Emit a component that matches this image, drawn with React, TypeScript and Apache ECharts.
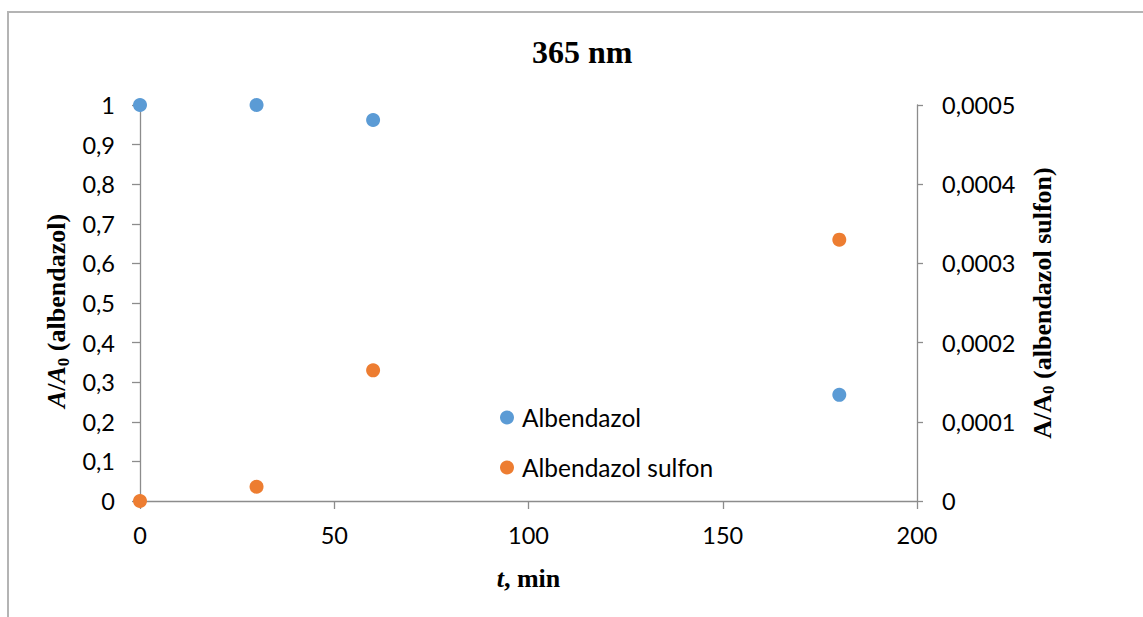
import React, { useEffect, useRef } from "react";
import * as echarts from "echarts";

const timeMin = [0, 30, 60, 180];
const albendazol = [1, 1, 0.962, 0.268];
const albendazolSulfon = [0, 0.000018, 0.000165, 0.00033];
const seriesNames = ["Albendazol", "Albendazol sulfon"];
const titleText = "365 nm";

const fmt = (v: number) => {
  const s = parseFloat(v.toFixed(6)).toString();
  return s.replace(".", ",");
};

export default function App() {
  const ref = useRef<HTMLDivElement>(null);
  useEffect(() => {
    if (!ref.current) return;
    const chart = echarts.init(ref.current, null, { renderer: "svg" });
    const axisColor = "#8c8c8c";
    const labelFont = { fontFamily: "Lato", fontSize: 23.5, color: "#000" };
    const nameRich = {
      i: { fontFamily: "Liberation Serif", fontStyle: "italic", fontWeight: "bold", fontSize: 26, color: "#000", lineHeight: 30 },
      b: { fontFamily: "Liberation Serif", fontWeight: "bold", fontSize: 26, color: "#000", lineHeight: 30 },
      s: { fontFamily: "Liberation Serif", fontWeight: "bold", fontSize: 17, color: "#000", lineHeight: 30, verticalAlign: "bottom" as const },
    };
    const nameRichUp = {
      ...nameRich,
      i: { ...nameRich.b },
    };
    chart.setOption({
      animation: false,
      backgroundColor: "#fff",
      title: {
        text: titleText,
        left: 527,
        top: 31,
        textStyle: { fontFamily: "Liberation Serif", fontWeight: "bold", fontSize: 32, color: "#000" },
      },
      legend: {
        orient: "vertical",
        left: 500,
        top: 405,
        padding: 0,
        icon: "circle",
        itemWidth: 14,
        itemHeight: 14,
        itemGap: 25,
        data: seriesNames,
        textStyle: { fontFamily: "Lato", fontSize: 24.5, color: "#000", lineHeight: 24, padding: [0, 0, 0, 3] },
      },
      graphic: [
        {
          type: "rect",
          shape: { x: 8, y: 12, width: 1300, height: 800 },
          style: { fill: "none", stroke: "#b4b4b4", lineWidth: 2 },
          silent: true,
          z: -10,
        },
      ],
      grid: {
        left: 140,
        right: 226,
        top: 105,
        bottom: 116,
        containLabel: false,
        outerBoundsMode: "none",
      },
      xAxis: {
        type: "value",
        min: 0,
        max: 200,
        interval: 50,
        name: "{i|t}{b|, min}",
        nameLocation: "middle",
        nameGap: 62,
        nameTextStyle: { rich: nameRich },
        axisLine: { show: true, onZero: false, lineStyle: { color: axisColor, width: 1.3 } },
        axisTick: { show: true, inside: false, length: 8, lineStyle: { color: axisColor, width: 1.3 } },
        axisLabel: { ...labelFont, margin: 22, formatter: fmt },
        splitLine: { show: false },
      },
      yAxis: [
        {
          type: "value",
          position: "left",
          min: 0,
          max: 1,
          interval: 0.1,
          name: "{i|A}{b|/}{i|A}{s|0}{b| (albendazol)}",
          nameLocation: "middle",
          nameRotate: 90,
          nameGap: 62,
          nameTextStyle: { rich: nameRich, padding: [0, 16, 0, 0] },
          axisLine: { show: true, onZero: false, lineStyle: { color: axisColor, width: 1.3 } },
          axisTick: { show: true, inside: false, length: 8, lineStyle: { color: axisColor, width: 1.3 } },
          axisLabel: { ...labelFont, margin: 25, formatter: fmt },
          splitLine: { show: false },
        },
        {
          type: "value",
          position: "right",
          min: 0,
          max: 0.0005,
          interval: 0.0001,
          name: "{i|A}{b|/}{i|A}{s|0}{b| (albendazol sulfon)}",
          nameLocation: "middle",
          nameRotate: 90,
          nameGap: 110,
          nameTextStyle: { rich: nameRichUp },
          axisLine: { show: true, onZero: false, lineStyle: { color: axisColor, width: 1.3 } },
          axisTick: { show: true, inside: false, length: 6, lineStyle: { color: axisColor, width: 1.3 } },
          axisLabel: { ...labelFont, margin: 25, formatter: fmt },
          splitLine: { show: false },
        },
      ],
      series: [
        {
          name: seriesNames[0],
          type: "scatter",
          yAxisIndex: 0,
          symbol: "circle",
          symbolSize: 14,
          itemStyle: { color: "#5b9bd5", opacity: 1 },
          clip: false,
          data: timeMin.map((t, i) => [t, albendazol[i]]),
        },
        {
          name: seriesNames[1],
          type: "scatter",
          yAxisIndex: 1,
          symbol: "circle",
          symbolSize: 14,
          itemStyle: { color: "#ed7d31", opacity: 1 },
          clip: false,
          data: timeMin.map((t, i) => [t, albendazolSulfon[i]]),
        },
      ],
    });
    return () => chart.dispose();
  }, []);
  return (
    <div
      ref={ref}
      style={{ position: "absolute", left: 0, top: 0, width: 1143, height: 617 }}
    />
  );
}
